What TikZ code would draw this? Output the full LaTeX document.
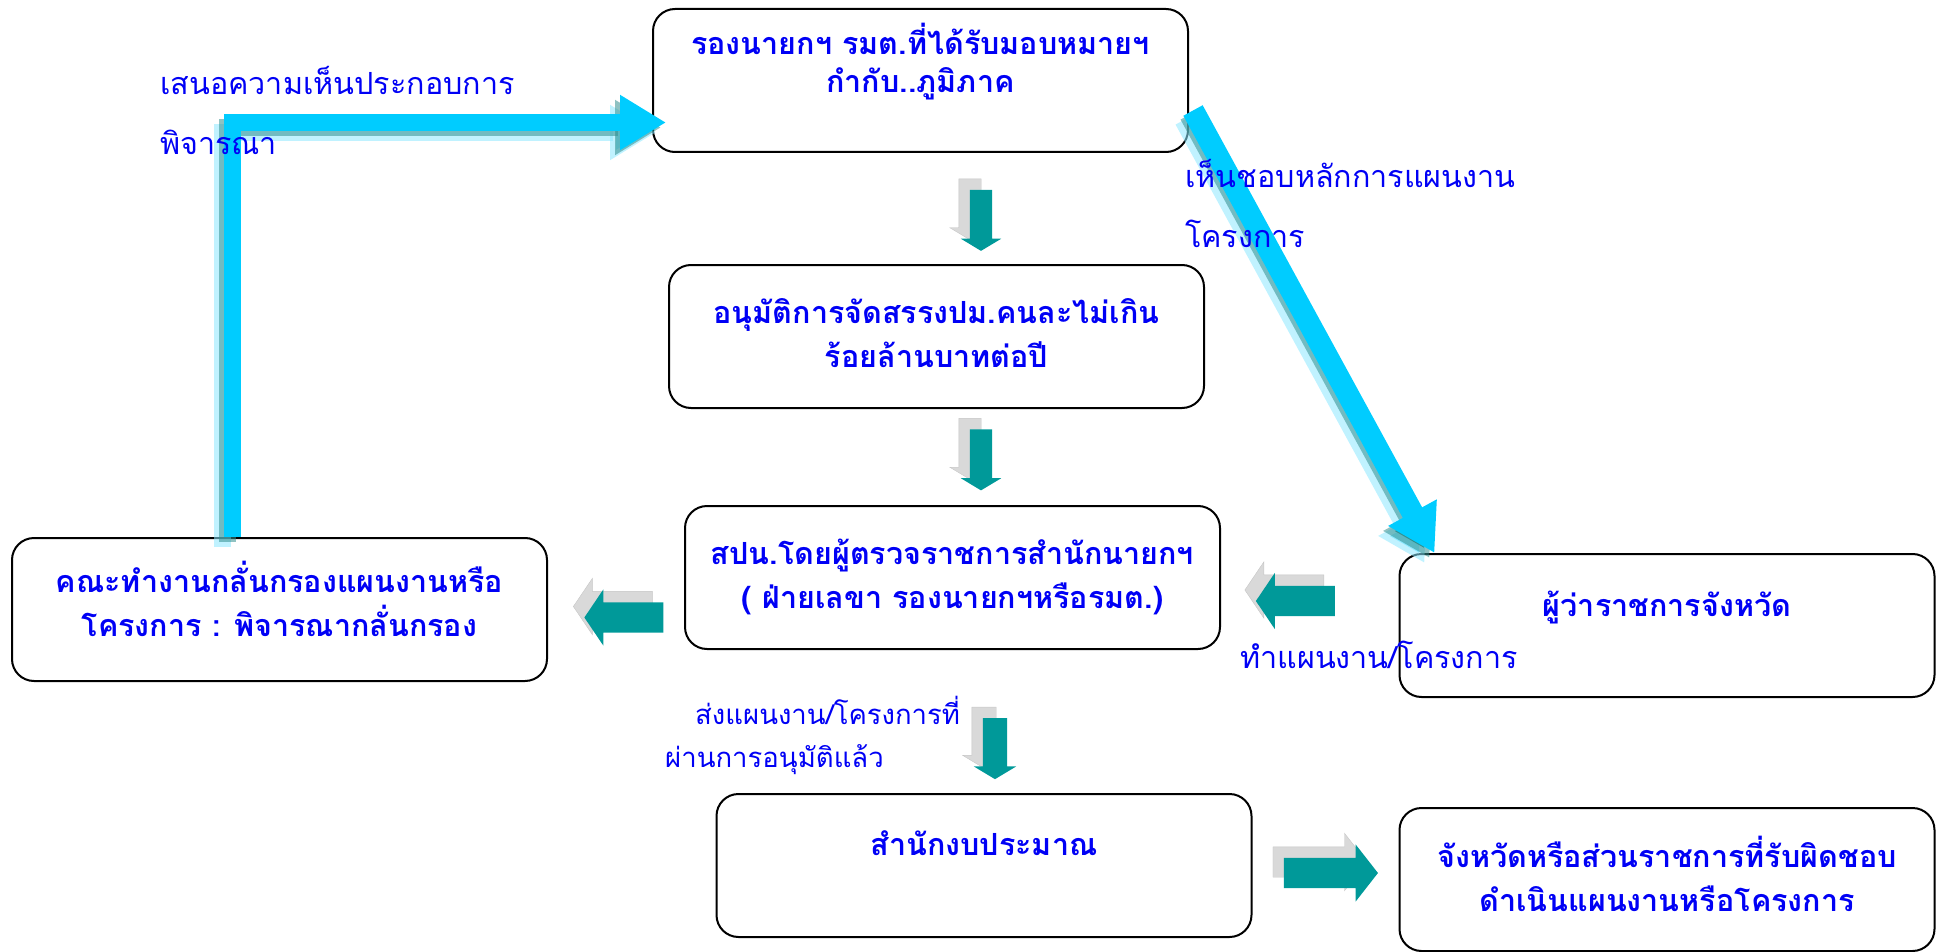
\documentclass[tikz,border=0pt]{standalone}
\usepackage{fontspec}
\newfontfamily\thaifont[Script=Thai]{Loma}
\usetikzlibrary{positioning, shapes.arrows, arrows.meta, calc, shadows}
\definecolor{flowcyan}{RGB}{0,204,255}
\definecolor{flowteal}{RGB}{0,153,153}
\definecolor{flowblue}{RGB}{0,0,245}

\begin{document}
\begin{tikzpicture}[
    x=1pt, y=-1pt,
    % Styles
    box/.style={ % process box
        rectangle,
        rounded corners=22pt,
        minimum width=535pt,
        minimum height=143pt,
        draw,
        line width=2pt,
        align=center,
        text=flowblue,
        font=\thaifont\bfseries\fontsize{30.5}{44}\selectfont
    },
    note/.style={ % label beside an arrow
        align=left,
        anchor=west,
        inner sep=0pt,
        text=flowblue,
        font=\thaifont\fontsize{30.5}{60}\selectfont
    },
    blockarrow/.style={ % teal block arrow with grey shadow
        single arrow,
        fill=flowteal,
        single arrow head indent=0pt,
        copy shadow={shadow xshift=-11pt, shadow yshift=11pt, fill=gray!30, draw=gray!45}
    },
    downarrow/.style={
        blockarrow,
        shape border rotate=270,
        inner sep=11pt,
        minimum height=61pt,
        single arrow head extend=9pt,
        single arrow tip angle=118
    },
    sidearrow/.style={
        blockarrow,
        inner sep=15pt,
        minimum height=79pt,
        single arrow head extend=13pt,
        single arrow tip angle=112
    },
    bigarrow/.style={ % wide cyan arrow
        line width=17pt,
        draw=flowcyan,
        -{Triangle[length=46pt, width=52pt]}
    },
    bigshadow/.style={ % its shadow
        line width=17pt,
        draw opacity=0.55,
        -{Triangle[length=46pt, width=52pt]}
    }
]

    \useasboundingbox (0,0) rectangle (1936,952);

    % Boxes
    \node[box] (minister) at (920.5,80.5) {รองนายกฯ รมต.ที่ได้รับมอบหมายฯ\\[-6pt]กำกับ..ภูมิภาค\\[2pt]};
    \node[box] (approve) at (936.5,336.5) {อนุมัติการจัดสรรงปม.คนละไม่เกิน\\ร้อยล้านบาทต่อปี\\[-36pt]};
    \node[box] (office) at (952.5,577.5) {สปน.โดยผู้ตรวจราชการสำนักนายกฯ\\( ฝ่ายเลขา รองนายกฯหรือรมต.)\\[-36pt]};
    \node[box] (filter) at (279.5,609.5) {คณะทำงานกลั่นกรองแผนงานหรือ\\โครงการ : พิจารณากลั่นกรอง\\[-22pt]};
    \node[box] (governor) at (1667,625.5) {ผู้ว่าราชการจังหวัด\\\mbox{}};
    \node[box] (budget) at (984,865.5) {สำนักงบประมาณ\\\mbox{}};
    \node[box] (agency) at (1667,879.5) {จังหวัดหรือส่วนราชการที่รับผิดชอบ\\ดำเนินแผนงานหรือโครงการ\\[-32pt]};

    % Cyan arrows with their shadows
    \coordinate (up) at ($(filter.north west)+(221,0)$);
    \coordinate (uptip) at ($(minister.west)+(14,42)$);
    \coordinate (dstart) at ($(minister.east)+(4,30)$);
    \coordinate (dtip) at ($(governor.north west)+(36,0)$);
    \foreach \s/\c in {-10/flowcyan!45, -5/flowteal!60!gray} {
        \draw[bigshadow, draw=\c, transform canvas={shift={(\s,-\s)}}] (up) |- (uptip);
        \draw[bigshadow, draw=\c, transform canvas={shift={(\s,-\s)}}] (dstart) -- (dtip);
    }
    \draw[bigarrow] (up) |- (uptip);
    \draw[bigarrow, line width=22pt] (dstart) -- (dtip);

    % Teal block arrows
    \node[downarrow] (step1) at (981,217) {};
    \node[downarrow] (step2) at (981,456.5) {};
    \node[downarrow, inner sep=12pt] (step3) at (995,745) {};
    \node[sidearrow, shape border rotate=180] (toleft) at (629,617.5) {};
    \node[sidearrow, shape border rotate=180] (fromgov) at (1300.5,601) {};
    \node[sidearrow, minimum height=94pt, single arrow head extend=13.5pt, single arrow tip angle=104] (toagency) at (1325,873) {};

    % Labels
    \node[note] (lbl1) at (160,110) {เสนอความเห็นประกอบการ\\พิจารณา};
    \node[note] (lbl2) at (1185,203) {เห็นชอบหลักการแผนงาน\\โครงการ};
    \node[note] (lbl3) at (1240,655) {ทำแผนงาน/โครงการ};
    \node[note, font=\thaifont\fontsize{27.5}{60}\selectfont] (lbl4) at (695,710) {ส่งแผนงาน/โครงการที่};
    \node[note, font=\thaifont\fontsize{27.5}{60}\selectfont] (lbl5) at (665,760) {ผ่านการอนุมัติแล้ว};

\end{tikzpicture}
\end{document}
